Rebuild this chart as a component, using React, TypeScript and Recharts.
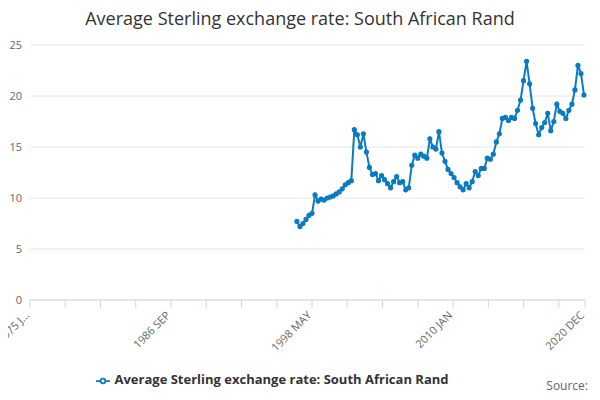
import React from "react";
import { LineChart, Line, XAxis, YAxis, CartesianGrid, Legend } from "recharts";

const years = [1997,1998,1999,2000,2001,2002,2003,2004,2005,2006,2007,2008,2009,2010,2011,2012,2013,2014,2015,2016,2017,2018,2019,2020];
const quarterValues = [
  [7.7,7.2,7.5,7.9],
  [8.3,8.5,10.3,9.7],
  [9.9,9.8,10.0,10.1],
  [10.2,10.4,10.6,10.9],
  [11.3,11.5,11.7,16.7],
  [16.2,15.0,16.3,14.5],
  [13.0,12.3,12.4,11.7],
  [12.2,11.8,11.4,11.0],
  [11.6,12.1,11.5,11.6],
  [10.8,11.0,13.2,14.2],
  [13.9,14.3,14.1,13.9],
  [15.8,15.0,14.8,16.5],
  [14.4,13.6,12.8,12.4],
  [12.0,11.5,11.1,10.8],
  [11.4,11.0,11.6,12.6],
  [12.2,12.9,12.9,13.9],
  [13.8,14.3,15.5,16.3],
  [17.8,17.9,17.6,17.9],
  [17.8,18.6,19.6,21.5],
  [23.4,21.2,18.8,17.3],
  [16.2,16.9,17.4,18.3],
  [16.6,17.5,19.2,18.5],
  [18.3,17.8,18.6,19.2],
  [20.6,23.0,22.2,20.1],
];
const tickLabels: Record<number, string> = { 0: "1975 J...", 140: "1986 SEP", 280: "1998 MAY", 420: "2010 JAN", 551: "2020 DEC" };
const seriesName = "Average Sterling exchange rate: South African Rand";

const data = years.flatMap((y, i) =>
  quarterValues[i].map((v, q) => ({ m: (y - 1975) * 12 + q * 3 + 1, v }))
);
const ticks = [0,35,70,105,140,175,210,245,280,315,350,385,420,455,490,525,551];

const Tick = (props: any) => {
  const { x, y, payload } = props;
  const label = tickLabels[payload.value];
  if (!label) return null;
  return (
    <text x={x} y={y + 6} textAnchor="end" fill="#666" fontSize={11} transform={`rotate(-45 ${x} ${y + 6})`}>
      {label}
    </text>
  );
};

export default function App() {
  return (
    <div style={{ width: 600, height: 400, position: "relative", fontFamily: "'Open Sans', sans-serif", margin: -8 }}>
      <div style={{ position: "absolute", top: 6, width: 600, textAlign: "center", fontSize: 18, color: "#333" }}>
        Average Sterling exchange rate: South African Rand
      </div>
      <LineChart width={600} height={400} data={data} margin={{ top: 45, right: 15, left: -30, bottom: 18 }}>
        <CartesianGrid vertical={false} stroke="#e6e6e6" />
        <XAxis dataKey="m" type="number" domain={[0, 551]} ticks={ticks} interval={0} tick={<Tick />} height={64} stroke="#ccd6eb" tickSize={8} />
        <YAxis domain={[0, 25]} ticks={[0,5,10,15,20,25]} axisLine={false} tickLine={false} tick={{ fill: "#666", fontSize: 11 }} />
        <Legend verticalAlign="bottom" align="center" wrapperStyle={{ fontWeight: "bold", fontSize: 13, color: "#333", bottom: 12 }}
          formatter={(val) => <span style={{ color: "#333" }}>{val}</span>} />
        <Line name={seriesName} dataKey="v" stroke="#0b7bc1" strokeWidth={2} dot={{ r: 1.6, fill: "#0b7bc1", stroke: "#0b7bc1" }} isAnimationActive={false} />
      </LineChart>
      <div style={{ position: "absolute", right: 12, bottom: 6, fontSize: 12, color: "#666" }}>Source:</div>
    </div>
  );
}
